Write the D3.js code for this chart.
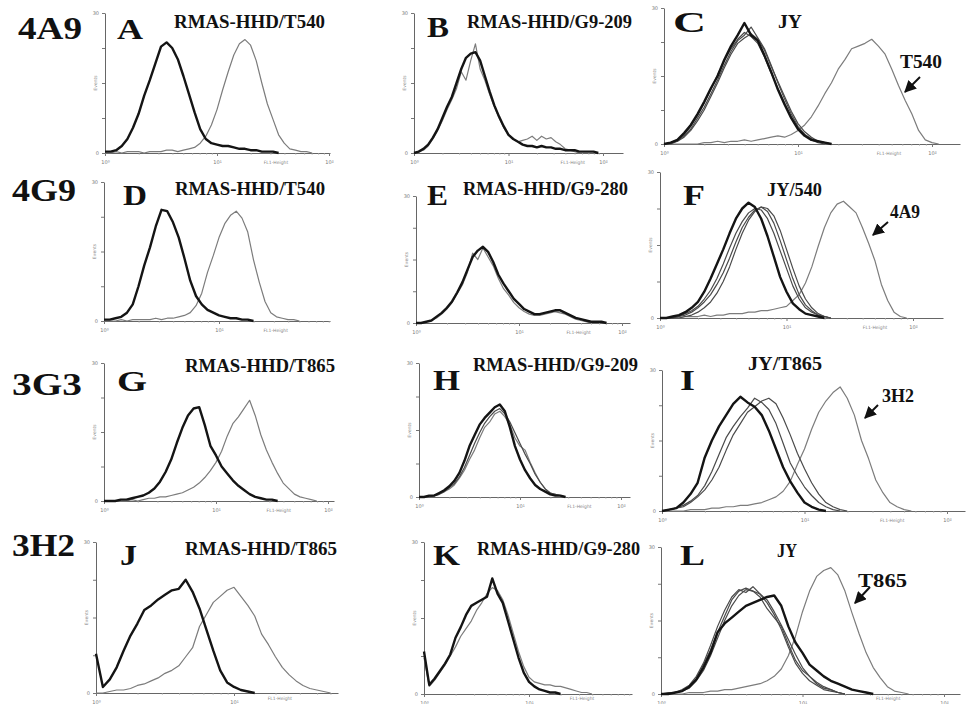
<!DOCTYPE html>
<html><head><meta charset="utf-8">
<script src="https://cdn.jsdelivr.net/npm/d3@7"></script>
<style>body{margin:0;background:#fff}svg{display:block}</style>
</head><body>
<svg id="c" width="969" height="704"></svg>
<script>
// ---------- DATA ----------
const panelIds = ["A","B","C","D","E","F","G","H","I","J","K","L"];
const rowLabels = ["4A9","4G9","3G3","3H2"];
const panelTitles = ["RMAS-HHD/T540","RMAS-HHD/G9-209","JY","RMAS-HHD/T540","RMAS-HHD/G9-280","JY/540",
                     "RMAS-HHD/T865","RMAS-HHD/G9-209","JY/T865","RMAS-HHD/T865","RMAS-HHD/G9-280","JY"];
const arrowLabels = {C:"T540", F:"4A9", I:"3H2", L:"T865"};
const xTickLabels = ["10\u2070","10\u00b9","10\u00b2"];
const yTickLabels = ["0","","","","30"];
const xAxisTitle = "FL1-Height";
const yAxisTitle = "Events";
const xStep = 0.05; // decades between histogram samples

// histogram values (% of y-axis max), sampled every xStep decades from 10^0
const A_black = [1,1,2,5,10,18,28,41,52,64,76,79,75,67,55,42,29,17,10,7,6,5,5,4,3,3,2,2,1,1,1,0];
const A_gray  = [0,0,1,0,1,1,1,0,1,1,1,2,2,1,2,3,4,7,12,20,31,45,58,70,78,81,77,66,50,35,24,13,7,3,2,1,1,0];
const B_black = [0,1,3,6,11,17,25,33,40,50,60,68,71,72,66,55,44,34,26,19,13,10,8,6,5,5,4,5,4,4,3,3,2,2,2,1,1,1,1,0];
const B_gray  = [0,1,2,5,10,16,23,31,38,46,58,52,66,78,60,52,42,33,25,18,13,10,8,9,10,12,9,12,10,11,8,6,3,2,1,0];
const C_black = [0,1,3,8,14,22,31,41,50,62,72,80,89,80,76,65,53,40,29,19,11,6,3,2,1,0];
const C_o1    = [0,1,2,6,11,19,27,37,47,58,68,76,80,86,78,70,58,45,33,22,13,7,4,2,1,0];
const C_o2    = [0,1,3,7,13,21,30,40,51,61,70,77,82,79,74,64,52,41,30,20,12,7,3,1,0];
const C_o3    = [0,0,2,5,10,17,25,35,45,56,66,74,78,81,77,69,57,46,35,24,15,9,5,2,1,0];
const C_gray  = [0,0,0,0,0,0,1,1,2,1,2,2,3,2,3,4,5,6,5,7,10,14,20,28,37,45,55,62,70,72,74,77,72,66,55,43,32,22,10,3,1,0];
const D_black = [1,1,2,3,6,12,25,40,53,68,80,79,71,60,45,29,18,12,8,6,4,3,2,2,1,1,0];
const D_gray  = [0,0,0,1,0,1,1,1,1,2,1,2,2,3,4,6,11,20,35,47,60,70,76,79,74,64,44,28,14,6,3,2,1,1,0];
const E_black = [0,0,1,2,5,8,12,17,24,32,42,52,57,60,56,48,38,31,25,19,15,11,9,7,7,8,9,10,10,8,6,4,3,2,1,1,1,0];
const E_gray  = [0,0,1,2,4,7,11,16,23,30,40,55,50,59,52,45,35,27,22,16,12,9,7,6,6,7,8,9,8,7,5,3,2,1,0];
const F_black = [0,0,1,2,4,7,11,18,27,37,47,58,68,75,79,76,68,56,42,28,18,10,6,3,2,1,0];
const F_o1    = [0,0,0,1,3,5,8,13,19,27,37,48,58,66,72,75,74,68,58,46,34,22,13,7,4,2,1,0];
const F_o2    = [0,0,0,1,2,4,7,11,16,23,31,41,52,62,69,74,76,73,65,53,40,27,16,9,5,2,1,0];
const F_o3    = [0,0,0,0,1,2,4,7,11,17,25,35,47,58,67,73,76,75,70,60,47,34,22,13,7,3,1,0];
const F_gray  = [0,0,0,0,1,1,1,2,1,2,2,3,3,3,4,4,5,5,6,7,8,12,16,24,35,49,62,72,78,80,76,72,62,51,39,23,12,4,1,0];
const G_black = [0,0,0,1,1,2,3,4,6,9,14,21,30,42,53,62,67,68,55,40,33,25,20,15,11,8,5,3,2,1,1,0];
const G_gray  = [0,0,0,0,0,1,0,1,2,2,3,3,4,5,6,8,10,13,17,22,28,36,47,56,61,67,73,62,48,37,28,20,13,9,5,3,2,1,0];
const H_black = [0,0,1,1,3,5,8,12,18,27,38,46,54,59,63,67,69,64,52,38,28,20,14,9,6,4,2,1,1,0];
const H_gray  = [0,0,0,1,2,4,6,9,14,20,28,35,44,52,56,62,64,60,54,44,38,35,26,18,11,6,3,2,1,0];
const H_o1    = [0,0,0,1,2,4,7,10,15,22,31,40,48,55,60,64,66,62,56,48,40,32,25,17,11,6,3,2,1,0];
const I_black = [0,1,2,6,12,20,38,50,60,68,76,81,77,74,68,57,44,31,21,13,6,3,1,0];
const I_o1    = [0,1,2,4,7,11,18,28,40,52,60,67,73,80,77,72,62,48,34,25,17,11,6,3,1,0];
const I_o2    = [0,1,2,3,6,10,15,22,31,43,54,62,70,74,78,80,76,66,54,41,30,20,12,6,3,1,0];
const I_gray  = [0,0,0,0,1,1,1,2,2,3,3,4,4,5,6,8,10,14,21,33,44,58,70,78,84,88,80,68,50,37,22,13,6,3,1,0];
const J_black = [26,4,9,17,28,38,46,55,58,62,65,68,69,75,67,56,42,28,15,7,4,2,1,0];
const J_gray  = [0,0,1,2,2,3,5,6,8,10,13,15,18,24,30,44,52,60,64,68,70,64,58,51,39,32,24,17,12,8,5,3,2,1,0];
const K_black = [28,6,10,15,20,26,37,44,52,58,60,62,64,76,66,60,48,36,24,14,8,5,3,2,1,1,0];
const K_gray  = [24,5,9,14,19,25,31,38,43,48,55,60,66,70,68,62,52,40,28,18,11,8,7,6,6,5,5,4,3,2,1,1,0];
const L_black = [0,0,1,2,5,10,18,28,42,48,52,56,60,62,64,66,67,60,46,35,28,20,16,12,9,7,5,3,2,1,0];
const L_o1    = [0,0,1,2,5,10,20,30,42,53,64,70,72,70,66,58,52,46,34,23,16,12,7,4,3,1,0];
const L_o2    = [0,1,1,3,6,12,21,33,46,57,66,71,69,73,68,62,54,44,32,21,14,9,6,3,2,1,0];
const L_o3    = [0,0,1,2,4,9,16,26,38,50,60,67,71,70,68,64,56,47,37,27,18,12,8,5,3,1,0];
const L_gray  = [0,0,0,0,1,1,1,2,2,3,3,4,5,6,7,9,12,17,26,39,56,70,80,84,86,81,70,55,41,28,18,11,5,2,1,0];

// curves of each panel: [role, values]
const panelCurves = {
  A: [["stain",A_gray],["control",A_black]],
  B: [["stain",B_gray],["control",B_black]],
  C: [["stain",C_gray],["other",C_o1],["other",C_o2],["other",C_o3],["control",C_black]],
  D: [["stain",D_gray],["control",D_black]],
  E: [["stain",E_gray],["control",E_black]],
  F: [["stain",F_gray],["other",F_o1],["other",F_o2],["other",F_o3],["control",F_black]],
  G: [["stain",G_gray],["control",G_black]],
  H: [["stain",H_gray],["other",H_o1],["control",H_black]],
  I: [["stain",I_gray],["other",I_o1],["other",I_o2],["control",I_black]],
  J: [["stain",J_gray],["control",J_black]],
  K: [["stain",K_gray],["control",K_black]],
  L: [["stain",L_gray],["other",L_o1],["other",L_o2],["other",L_o3],["control",L_black]]
};

// ---------- LAYOUT / STYLE ----------
const layout = {
  A:{x0:105,dec:112,xEnd:330,yTop:13,yBase:153,letter:[117,39,26],title:[174,28,151]},
  B:{x0:414,dec:94.5,xEnd:623,yTop:13,yBase:153,letter:[427,37,22],title:[467,28,165]},
  C:{x0:664,dec:134,xEnd:960,yTop:8,yBase:144,letter:[673,32,33],title:[778,28,24],alab:[900,68,42],arrow:[920,77,905,92]},
  D:{x0:104,dec:115,xEnd:330,yTop:182,yBase:321,letter:[123,205,24],title:[175,195,150]},
  E:{x0:416,dec:103,xEnd:630,yTop:196,yBase:323,letter:[427,205,21],title:[463,195,165]},
  F:{x0:660,dec:126.5,xEnd:943,yTop:172,yBase:318,letter:[683,205,22],title:[767,196,55],alab:[890,218,30],arrow:[888,222,873,235]},
  G:{x0:104,dec:112,xEnd:334,yTop:363,yBase:501,letter:[117,391,30],title:[185,372,150]},
  H:{x0:419,dec:101,xEnd:630,yTop:363,yBase:497,letter:[433,390,27],title:[473,371,165]},
  I:{x0:662,dec:142.5,xEnd:965,yTop:370,yBase:511,letter:[680,390,15],title:[748,370,74],alab:[882,402,32],arrow:[878,405,865,418]},
  J:{x0:96,dec:138,xEnd:338,yTop:542,yBase:693,letter:[120,565,17],title:[185,555,152]},
  K:{x0:424,dec:105,xEnd:632,yTop:542,yBase:694,letter:[433,565,27],title:[477,555,163]},
  L:{x0:661,dec:141.5,xEnd:960,yTop:547,yBase:694,letter:[680,565,25],title:[777,557,20],alab:[858,587,49],arrow:[870,587,855,603]}
};
const rowLayout = [[18,39,64],[12,201,64],[12,395,70],[12,556,63]];
const roleStyle = {
  stain:{stroke:"#7c7c7c",width:1.2},
  other:{stroke:"#4a4a4a",width:1.2},
  control:{stroke:"#141414",width:2.4}
};
const serif = "'Liberation Serif','Times New Roman',serif";

// ---------- DRAW ----------
const svg = d3.select("#c");
svg.append("rect").attr("width",969).attr("height",704).attr("fill","#fff");
svg.append("defs").append("marker").attr("id","ah").attr("viewBox","0 0 10 10")
  .attr("refX",9).attr("refY",5).attr("markerWidth",6).attr("markerHeight",6).attr("orient","auto")
  .append("path").attr("d","M0,0L10,5L0,10z").attr("fill","#111");

rowLabels.forEach((t,i)=>{
  const r = rowLayout[i];
  svg.append("text").attr("x",r[0]).attr("y",r[1]).text(t)
    .attr("font-family",serif).attr("font-weight","bold").attr("font-size",32)
    .attr("fill","#111").attr("textLength",r[2]).attr("lengthAdjust","spacingAndGlyphs");
});

panelIds.forEach((id,pi)=>{
  const P = layout[id];
  const maxDec = (P.xEnd - P.x0)/P.dec;
  const x = d3.scaleLinear().domain([0,maxDec]).range([P.x0,P.xEnd]);
  const y = d3.scaleLinear().domain([0,100]).range([P.yBase,P.yTop]);
  const g = svg.append("g");

  // x axis
  const xa = g.append("g").attr("transform",`translate(0,${P.yBase})`)
    .call(d3.axisBottom(x).tickValues([0,1,2].filter(v=>v<=maxDec+0.01)).tickSize(3).tickSizeOuter(0)
      .tickFormat((d,j)=>xTickLabels[j]));
  const minor = [];
  for (let dd=0; dd<3; dd++) for (let k=2;k<10;k++){ const v=dd+Math.log10(k); if(v<maxDec) minor.push(v); }
  g.append("g").attr("transform",`translate(0,${P.yBase})`)
    .call(d3.axisBottom(x).tickValues(minor).tickSize(1.5).tickSizeOuter(0).tickFormat(""))
    .call(s=>s.select(".domain").remove())
    .selectAll("line").attr("stroke","#999");
  // y axis
  const ya = g.append("g").attr("transform",`translate(${P.x0},0)`)
    .call(d3.axisLeft(y).tickValues([0,25,50,75,100]).tickSize(3).tickSizeOuter(0)
      .tickFormat((d,j)=>yTickLabels[j]));
  [xa,ya].forEach(a=>{
    a.select(".domain").attr("stroke","#666").attr("stroke-width",1);
    a.selectAll(".tick line").attr("stroke","#777");
    a.selectAll("text").attr("font-size",5).attr("fill","#777").attr("font-family","DejaVu Sans");
  });
  xa.selectAll("text").attr("dy","0.9em");
  g.append("text").attr("x",P.x0+(P.xEnd-P.x0)*0.76).attr("y",Math.min(P.yBase+11,700)).text(xAxisTitle)
    .attr("font-size",4.5).attr("fill","#888").attr("font-family","DejaVu Sans").attr("text-anchor","middle");
  g.append("text").attr("transform",`translate(${P.x0-8},${y(50)}) rotate(-90)`).text(yAxisTitle)
    .attr("font-size",4.5).attr("fill","#888").attr("font-family","DejaVu Sans").attr("text-anchor","middle");

  // curves
  const line = d3.line().x((d,j)=>x(j*xStep)).y(d=>y(d));
  panelCurves[id].forEach(([role,vals])=>{
    const s = roleStyle[role];
    g.append("path").datum(vals).attr("d",line).attr("fill","none")
      .attr("stroke",s.stroke).attr("stroke-width",s.width).attr("stroke-linejoin","round");
  });

  // labels
  const tl = (pos,txt,size)=>g.append("text").attr("x",pos[0]).attr("y",pos[1]).text(txt)
    .attr("font-family",serif).attr("font-weight","bold").attr("font-size",size).attr("fill","#111")
    .attr("textLength",pos[2]).attr("lengthAdjust","spacingAndGlyphs");
  tl(P.letter,id,30);
  tl(P.title,panelTitles[pi],18);
  if (arrowLabels[id]) {
    tl(P.alab,arrowLabels[id],18);
    g.append("line").attr("x1",P.arrow[0]).attr("y1",P.arrow[1]).attr("x2",P.arrow[2]).attr("y2",P.arrow[3])
      .attr("stroke","#111").attr("stroke-width",2).attr("marker-end","url(#ah)");
  }
});
</script>
</body></html>
